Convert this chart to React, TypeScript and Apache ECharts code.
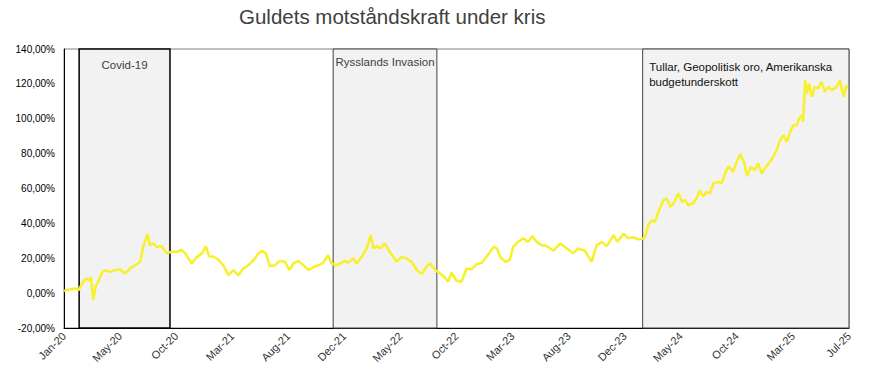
import React, { useEffect, useRef } from "react";
import * as echarts from "echarts";

const title = "Guldets motståndskraft under kris";
const tickLabels = ["Jan-20", "May-20", "Oct-20", "Mar-21", "Aug-21", "Dec-21", "May-22", "Oct-22", "Mar-23", "Aug-23", "Dec-23", "May-24", "Oct-24", "Mar-25", "Jul-25"];

// trading-day index since start of 2020
const dayIndex = [
  0, 11, 20, 26, 34, 40, 45, 48, 52, 57, 61, 67, 73, 82, 91, 100, 109, 118, 127, 136, 141, 149, 153, 159, 165, 174, 183, 192, 201, 210, 216, 228, 237, 246, 253, 259,
  266, 275, 284, 293, 302, 311, 320, 329, 338, 347, 353, 360, 367, 376, 385, 394, 402, 409, 418, 427, 436, 445, 454, 462, 471, 477, 486, 495,
  501, 507, 516, 522, 531, 540, 547, 552, 558, 564, 572, 581, 593, 602, 611, 620, 629, 638, 646, 653, 662, 671, 678, 685, 691, 700, 709, 718, 727, 736, 745,
  751, 760, 766, 772, 778, 787, 795, 801, 810, 819, 828, 835, 843, 852, 861, 873, 885, 897, 908, 917, 929, 941, 950, 959, 968, 980, 987, 998, 1006, 1015, 1024, 1030,
  1036, 1042, 1048, 1054, 1060, 1069, 1075, 1081, 1087, 1096, 1102, 1108, 1113, 1122, 1128, 1134, 1140, 1146, 1152, 1158, 1167, 1173, 1179, 1185, 1193, 1200, 1206, 1213, 1218,
  1225, 1232, 1238, 1244, 1252, 1259, 1265, 1271, 1277, 1283, 1289, 1295, 1301, 1307, 1311, 1316, 1318, 1322, 1325, 1329, 1334, 1339, 1345, 1351, 1357, 1363, 1369, 1378, 1384, 1387, 1391, 1395, 1397,
];

// gold return since start, %
const goldReturn = [
  1.3, 2.1, 2.7, 1.7, 6.5, 8.4, 7.5, 9, -4, 4.6, 6.5, 11.3, 13.2, 12.2, 13.2, 13.6, 11.3, 14.2, 16, 18, 26.5, 33.8, 27.5, 28.5, 26.5, 27, 22.8, 23.7, 23.7, 24.7, 22.8, 17, 20.8, 22.8, 27, 21,
  21, 19.3, 16, 10.3, 13.2, 10.3, 14.2, 16, 18.9, 22.8, 24.3, 22.8, 15.5, 16, 18.5, 18, 13.2, 17, 18.5, 16, 13.2, 15, 16, 17.4, 21.8, 17, 16, 17.4,
  18.5, 17.4, 19.9, 17, 20.8, 25.6, 33.3, 25.6, 27, 25.6, 28.5, 23.7, 18, 20.8, 19.9, 18, 13.2, 10.9, 15, 17, 13.2, 11.3, 9.4, 6.5, 11.7, 7.1, 6.5, 14.2, 13.6, 16.6, 17.4,
  19.9, 23.7, 26.5, 25.6, 20.8, 18, 18.9, 26.5, 29.4, 31.4, 29.4, 32.7, 29.4, 27.5, 27, 24.3, 28.5, 25.6, 22.8, 25.6, 24.3, 18, 27.5, 29.4, 27, 33.3, 29.4, 34.2, 31.4, 32.1, 30.9, 31,
  32, 39, 41.9, 40.9, 46.6, 53.3, 54.3, 49.5, 51.4, 57.2, 52.4, 53.3, 50.5, 51.4, 54.3, 59, 55.4, 58, 57.2, 62.9, 63.8, 62.9, 68.6, 72.8, 69.6, 75.3, 79.7, 75, 67,
  72.4, 70.5, 74.4, 68.6, 72.4, 75.3, 78.2, 82, 87.7, 90.6, 86.8, 92.5, 96.3, 96.3, 100.2, 102, 98.2, 122, 114.5, 120.2, 112.6, 118.3, 117.4, 121.2, 115.5, 118.3, 116.4, 118.3, 122, 117.4, 112.6, 119.2, 117.4,
];

const crisisNames = ["Covid-19", "Rysslands Invasion", "Tullar, Geopolitisk oro, Amerikanska\nbudgetunderskott"];
const crisisStart = [27, 480, 1032];
const crisisEnd = [189, 665, 1400];

export default function App() {
  const ref = useRef<HTMLDivElement>(null);
  useEffect(() => {
    document.body.style.margin = "0";
    const chart = echarts.init(ref.current!, undefined, { renderer: "svg" });
    const font = "'Liberation Sans', Arial, sans-serif";
    const areaStyles = [
      { color: "#f2f2f2", borderColor: "#000", borderWidth: 1.5 },
      { color: "#f2f2f2", borderColor: "#404040", borderWidth: 1 },
      { color: "#f2f2f2", borderColor: "#404040", borderWidth: 1 },
    ];
    const labelStyles = [
      { position: "insideTop", distance: 11, color: "#404040" },
      { position: "insideTop", distance: 7, color: "#404040" },
      { position: "insideTopLeft", distance: 0, padding: [11, 0, 0, 7], color: "#111", align: "left", lineHeight: 15 },
    ];
    chart.setOption({
      animation: false,
      backgroundColor: "#fff",
      title: {
        text: title,
        left: 239,
        top: 6,
        padding: 0,
        textStyle: { fontFamily: font, fontSize: 20.5, fontWeight: "normal", color: "#404040" },
      },
      grid: { left: 64, right: 28, top: 49, bottom: 52, show: true, borderColor: "#808080", borderWidth: 1 },
      xAxis: {
        type: "value",
        min: 0,
        max: 1400,
        interval: 100,
        splitLine: { show: false },
        axisLine: { show: true, onZero: false, lineStyle: { color: "#000", width: 1 } },
        axisTick: { show: false },
        axisLabel: {
          rotate: 45,
          fontFamily: font,
          fontSize: 11,
          color: "#333",
          margin: 6,
          formatter: (v: number) => tickLabels[Math.round(v / 100)] ?? "",
        },
      },
      yAxis: {
        type: "value",
        min: -20,
        max: 140,
        interval: 20,
        splitLine: { show: false },
        axisLine: { show: true, lineStyle: { color: "#000", width: 1 } },
        axisTick: { show: false },
        axisLabel: {
          fontFamily: font,
          fontSize: 10,
          color: "#000",
          margin: 9,
          formatter: (v: number) => v.toFixed(2).replace(".", ",") + "%",
        },
      },
      series: [
        {
          type: "line",
          data: dayIndex.map((d, i) => [d, goldReturn[i]]),
          showSymbol: false,
          lineStyle: { color: "#f7f02a", width: 2.5 },
          itemStyle: { color: "#f7f02a" },
          z: 5,
          markArea: {
            silent: true,
            data: crisisNames.map((name, i) => [
              {
                name,
                xAxis: crisisStart[i],
                itemStyle: areaStyles[i],
                label: { show: true, fontFamily: font, fontSize: 11.5, ...labelStyles[i] },
              },
              { xAxis: crisisEnd[i] },
            ]),
          },
        },
      ],
    });
    return () => chart.dispose();
  }, []);
  return <div ref={ref} style={{ width: 877, height: 380 }} />;
}
